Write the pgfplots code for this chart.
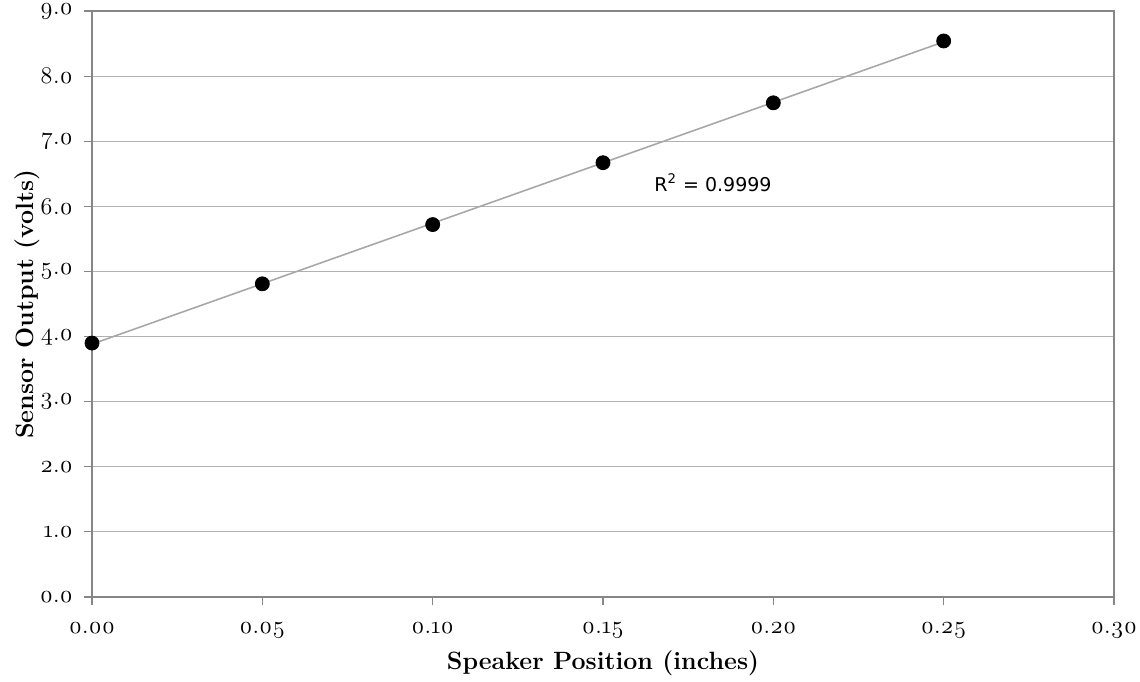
\documentclass[border=0pt]{standalone}
\usepackage{fontspec}
\setmainfont{Latin Modern Roman}[Numbers=OldStyle]
\newfontfamily\versa{DejaVu Sans}
\usepackage{pgfplots}
\pgfplotsset{compat=1.18}
\definecolor{axgray}{RGB}{134,134,134}
\definecolor{gridgray}{RGB}{178,178,178}
\definecolor{trend}{RGB}{168,168,168}
\begin{document}
\begin{tikzpicture}
\begin{axis}[
  scale only axis, width=511pt, height=293pt,
  at={(0,0)}, anchor=south west,
  xmin=0, xmax=0.3, ymin=0, ymax=9,
  xtick={0,0.05,0.1,0.15,0.2,0.25,0.3},
  ytick={0,1,2,3,4,5,6,7,8,9},
  ymajorgrids, major grid style={gridgray, line width=0.6pt},
  axis line style={axgray, line width=0.6pt},
  tick style={axgray, line width=0.6pt},
  tick align=outside, major tick length=4pt,
  xtick pos=bottom, ytick pos=left,
  /pgf/number format/assume math mode=true,
  tick label style={font=\fontsize{12}{14}\selectfont},
  xticklabel style={/pgf/number format/fixed, /pgf/number format/fixed zerofill, /pgf/number format/precision=2, yshift=-5pt},
  yticklabel style={/pgf/number format/fixed, /pgf/number format/fixed zerofill, /pgf/number format/precision=1, xshift=-2pt},
  xlabel={Speaker Position (inches)},
  ylabel={Sensor Output (volts)},
  label style={font=\bfseries\fontsize{12.5}{15}\selectfont},
  xlabel style={at={(axis description cs:0.5,-0.1126)}, anchor=center},
  ylabel style={at={(axis description cs:-0.0636,0.5)}, anchor=center},
  clip=false,
]
\addplot[trend, line width=0.8pt] coordinates {(0,3.884) (0.25,8.526)};
\addplot[only marks, mark=*, mark size=3.5pt, black] coordinates {
  (0,3.90) (0.05,4.81) (0.10,5.72) (0.15,6.67) (0.20,7.59) (0.25,8.54)
};
\node[font=\versa\fontsize{9.5}{11}\selectfont] at (axis cs:0.1823,6.36) {R\textsuperscript{2} = 0.9999};
\end{axis}
\pgfresetboundingbox
\useasboundingbox (-46pt,-42pt) rectangle (524pt,298.5pt);
\end{tikzpicture}
\end{document}
